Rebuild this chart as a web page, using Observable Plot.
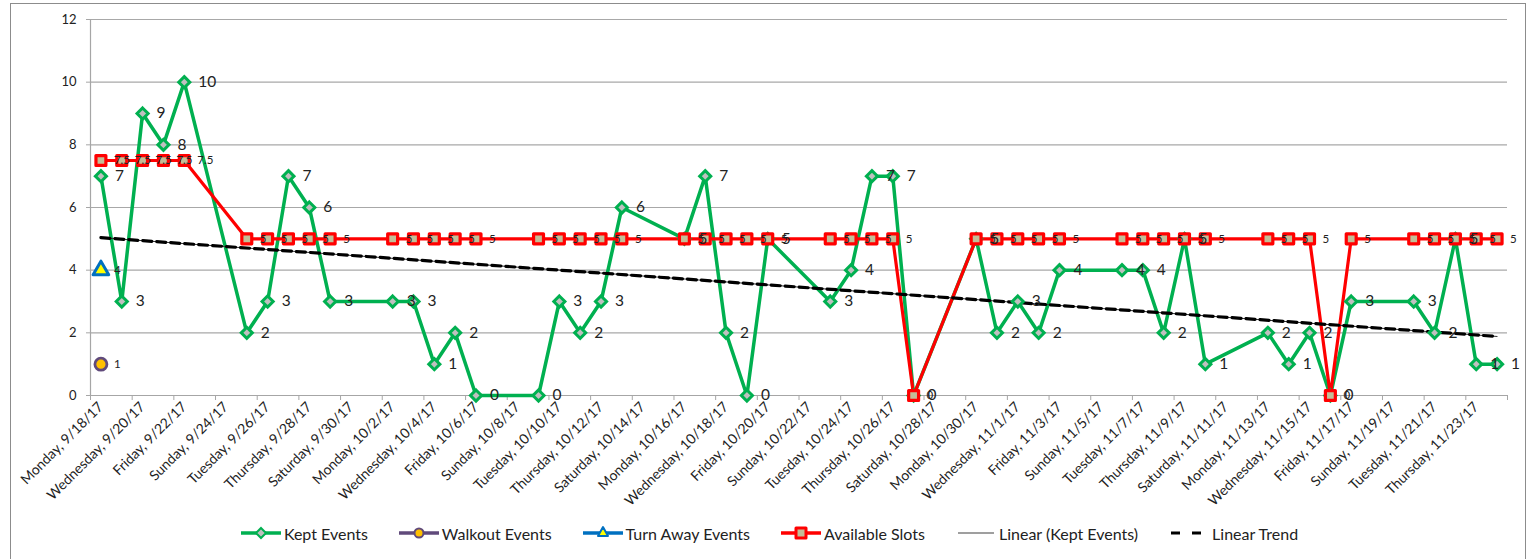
<!DOCTYPE html>
<html>
<head>
<meta charset="utf-8">
<script src="https://cdn.jsdelivr.net/npm/d3@7"></script>
<script src="https://cdn.jsdelivr.net/npm/@observablehq/plot@0.6"></script>
<style>
  body { margin: 0; background: #fff; font-family: Lato, "Open Sans", sans-serif; color: #222; }
  #frame { position: absolute; left: 10px; top: 3px; width: 1516px; height: 620px; border: 1px solid #8c8c8c; box-sizing: border-box; pointer-events: none; }
  #chart { position: absolute; left: 0; top: 0; }
  #legend { position: absolute; left: 0; top: 523px; width: 1539px; display: flex; justify-content: center; align-items: center; gap: 31px; font-size: 16px; }
  .item { display: flex; align-items: center; gap: 3px; white-space: nowrap; }
  .item svg { display: block; }
</style>
</head>
<body>
<div id="chart"></div>
<div id="legend"></div>
<div id="frame"></div>
<script>
// ---- data ----
const dates = [
  "2017-09-18","2017-09-19","2017-09-20","2017-09-21","2017-09-22",
  "2017-09-25","2017-09-26","2017-09-27","2017-09-28","2017-09-29",
  "2017-10-02","2017-10-03","2017-10-04","2017-10-05","2017-10-06",
  "2017-10-09","2017-10-10","2017-10-11","2017-10-12","2017-10-13",
  "2017-10-16","2017-10-17","2017-10-18","2017-10-19","2017-10-20",
  "2017-10-23","2017-10-24","2017-10-25","2017-10-26","2017-10-27",
  "2017-10-30","2017-10-31","2017-11-01","2017-11-02","2017-11-03",
  "2017-11-06","2017-11-07","2017-11-08","2017-11-09","2017-11-10",
  "2017-11-13","2017-11-14","2017-11-15","2017-11-16","2017-11-17",
  "2017-11-20","2017-11-21","2017-11-22","2017-11-23","2017-11-24"
];
const keptEvents = [
  7,3,9,8,10,
  2,3,7,6,3,
  3,3,1,2,0,
  0,3,2,3,6,
  5,7,2,0,5,
  3,4,7,7,0,
  5,2,3,2,4,
  4,4,2,5,1,
  2,1,2,0,3,
  3,2,5,1,1
];
const availableSlots = [
  7.5,7.5,7.5,7.5,7.5,
  5,5,5,5,5,
  5,5,5,5,5,
  5,5,5,5,5,
  5,5,5,5,5,
  5,5,5,5,0,
  5,5,5,5,5,
  5,5,5,5,5,
  5,5,5,0,5,
  5,5,5,5,5
];
const walkoutDates = ["2017-09-18"];
const walkoutEvents = [1];
const turnAwayDates = ["2017-09-18"];
const turnAwayEvents = [4];
const yTicks = [0, 2, 4, 6, 8, 10, 12];
const axisStart = "2017-09-18";
const axisEnd = "2017-11-25";

// ---- build ----
const noon = s => new Date(s + "T12:00:00Z");
const keptData = dates.map((d, i) => ({date: noon(d), value: keptEvents[i]}));
const slotData = dates.map((d, i) => ({date: noon(d), value: availableSlots[i]}));
const walkData = walkoutDates.map((d, i) => ({date: noon(d), value: walkoutEvents[i]}));
const turnData = turnAwayDates.map((d, i) => ({date: noon(d), value: turnAwayEvents[i]}));

const start = new Date(axisStart + "T00:00:00Z");
const end = new Date(axisEnd + "T00:00:00Z");
const boundaries = d3.utcDay.range(start, d3.utcDay.offset(end, 1), 2);
const labelDates = boundaries.slice(0, -1).map(d => d3.utcHour.offset(d, 12));
const fmt = d3.utcFormat("%A, %-m/%-d/%y");

const green = "#00b050", red = "#ff0000", purple = "#604a7b", blue = "#0070c0";

const chart = Plot.plot({
  width: 1539,
  height: 515,
  marginLeft: 90,
  marginRight: 32,
  marginTop: 19,
  marginBottom: 120,
  x: {type: "utc", domain: [start, end], label: null},
  y: {domain: [0, 12], label: null},
  style: {fontFamily: "Lato, 'Open Sans', sans-serif", color: "#222", background: "transparent", overflow: "visible"},
  marks: [
    Plot.gridY(yTicks, {stroke: "#a8a8a8", strokeOpacity: 1, strokeWidth: 1.2}),
    Plot.ruleX([start], {stroke: "#a6a6a6", strokeWidth: 1.2}),
    Plot.ruleY([0], {stroke: "#a6a6a6", strokeWidth: 1.2}),
    Plot.axisY({ticks: yTicks, tickSize: 4, tickPadding: 10, fontSize: 13, stroke: "#a6a6a6", tickFormat: d => String(d), label: null}),
    Plot.axisX({ticks: boundaries, tickSize: 5, tickFormat: () => "", stroke: "#a6a6a6", label: null}),
    Plot.axisX({ticks: labelDates, tickSize: 0, tickPadding: 9, tickRotate: -45, fontSize: 14, tickFormat: fmt, label: null}),
    Plot.line(keptData, {x: "date", y: "value", stroke: green, strokeWidth: 3.5}),
    Plot.line(slotData, {x: "date", y: "value", stroke: red, strokeWidth: 3.2}),
    Plot.linearRegressionY(keptData, {x: "date", y: "value", stroke: "#333", strokeWidth: 1, ci: 0}),
    Plot.linearRegressionY(keptData, {x: "date", y: "value", stroke: "#000", strokeWidth: 3.2, strokeDasharray: "9,5", ci: 0}),
    Plot.dot(keptData, {x: "date", y: "value", symbol: "diamond2", r: 5, stroke: green, strokeWidth: 3, fill: "#c0c0c0"}),
    Plot.dot(slotData, {x: "date", y: "value", symbol: "square", r: 5.6, stroke: red, strokeWidth: 3.2, fill: "#c4bd97", strokeLinejoin: "round"}),
    Plot.dot(walkData, {x: "date", y: "value", symbol: "circle", r: 6, stroke: purple, strokeWidth: 2.8, fill: "#ffc000"}),
    Plot.dot(turnData, {x: "date", y: "value", symbol: "triangle", r: 5.8, stroke: blue, strokeWidth: 3, fill: "#ffff00", strokeLinejoin: "round"}),
    Plot.text(keptData, {x: "date", y: "value", text: d => String(d.value), dx: 14, textAnchor: "start", fontSize: 15.5, fill: "#222"}),
    Plot.text(slotData, {x: "date", y: "value", text: d => String(d.value), dx: 13, textAnchor: "start", fontSize: 11.5, fill: "#222"}),
    Plot.text(walkData, {x: "date", y: "value", text: d => String(d.value), dx: 13, textAnchor: "start", fontSize: 11.5, fill: "#222"}),
    Plot.text(turnData, {x: "date", y: "value", text: d => String(d.value), dx: 13, textAnchor: "start", fontSize: 11.5, fill: "#222"})
  ]
});
document.getElementById("chart").appendChild(chart);

// ---- legend ----
const legendItems = [
  {label: "Kept Events", sym: `<line x1="0" y1="10" x2="40" y2="10" stroke="${green}" stroke-width="3.5"/><path d="M20,5 L25,10 L20,15 L15,10 Z" fill="#c0c0c0" stroke="${green}" stroke-width="2"/>`},
  {label: "Walkout Events", sym: `<line x1="0" y1="10" x2="40" y2="10" stroke="${purple}" stroke-width="3.5"/><circle cx="20" cy="10" r="4.5" fill="#ffc000" stroke="${purple}" stroke-width="2"/>`},
  {label: "Turn Away Events", sym: `<line x1="0" y1="10" x2="40" y2="10" stroke="${blue}" stroke-width="3.5"/><path d="M20,4 L25,13 L15,13 Z" fill="#ffff00" stroke="${blue}" stroke-width="2" stroke-linejoin="round"/>`},
  {label: "Available Slots", sym: `<line x1="0" y1="10" x2="40" y2="10" stroke="${red}" stroke-width="3.5"/><rect x="15" y="5" width="10" height="10" fill="#c4bd97" stroke="${red}" stroke-width="3" stroke-linejoin="round"/>`},
  {label: "Linear (Kept Events)", sym: `<line x1="2" y1="10" x2="38" y2="10" stroke="#7f7f7f" stroke-width="1.6"/>`},
  {label: "Linear Trend", sym: `<line x1="2" y1="10" x2="38" y2="10" stroke="#000" stroke-width="3" stroke-dasharray="9,12"/>`}
];
const legend = document.getElementById("legend");
for (const it of legendItems) {
  const div = document.createElement("div");
  div.className = "item";
  div.innerHTML = `<svg width="40" height="20" viewBox="0 0 40 20">${it.sym}</svg><span>${it.label}</span>`;
  legend.appendChild(div);
}
</script>
</body>
</html>
